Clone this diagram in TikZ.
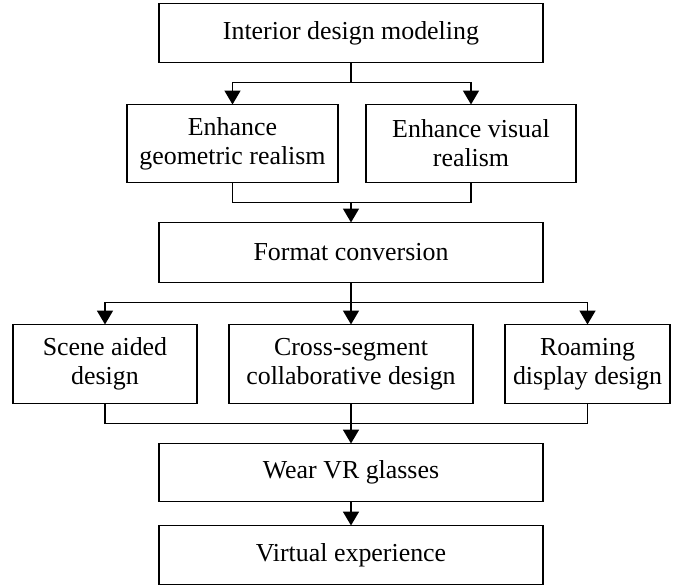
\documentclass[tikz,border=0pt]{standalone}
\usepackage{fontspec}
\setmainfont{Liberation Serif}
\usepackage{tikz}
\usetikzlibrary{arrows.meta,positioning,calc}
\tikzset{
  box/.style={draw,line width=0.9bp,fill=white,align=center,inner sep=2bp,%
    outer sep=0pt,font=\fontsize{13}{14.5}\selectfont},
  link/.style={line width=0.9bp,draw=black},
  flow/.style={link,-{Triangle[length=7bp,width=8bp]}},
}

\begin{document}
\begin{tikzpicture}[node distance=20bp]
\useasboundingbox (-175.5bp,16.5bp) rectangle (164.5bp,-277.5bp);
\node[box,minimum width=192bp,minimum height=29.5bp] (model) at (0,0) {Interior design modeling};
\node[box,minimum width=105.5bp,minimum height=39bp,below=21bp of model,xshift=-59.25bp] (geom) {Enhance\\geometric realism};
\node[box,minimum width=105bp,minimum height=39bp,right=14bp of geom] (visual) {Enhance visual\\realism};
\node[box,minimum width=192bp,minimum height=30bp,below=20bp of model |- geom.south] (fmt) {Format conversion};
\node[box,minimum width=122bp,minimum height=39.5bp,below=21bp of fmt] (cross) {Cross-segment\\collaborative design};
\node[box,minimum width=92bp,minimum height=39.5bp,left=16bp of cross] (scene) {Scene aided\\design};
\node[box,minimum width=82.5bp,minimum height=39.5bp,right=16bp of cross] (roam) {Roaming\\display design};
\node[box,minimum width=192bp,minimum height=29bp,below=20bp of cross] (wear) {Wear VR glasses};
\node[box,minimum width=192bp,minimum height=29.5bp,below=12bp of wear] (exp) {Virtual experience};
\draw[link] (model.south) -- ++(0,-10bp) coordinate (s1);
\draw[flow] (s1) -| (geom.north);
\draw[flow] (s1) -| (visual.north);
\draw[link] (geom.south) -- ++(0,-10bp) coordinate (j1) -| (visual.south);
\draw[flow] (j1 -| fmt.north) -- (fmt.north);
\draw[link] (fmt.south) -- ++(0,-10bp) coordinate (s2);
\draw[flow] (s2) -| (scene.north);
\draw[flow] (s2) -- (cross.north);
\draw[flow] (s2) -| (roam.north);
\draw[link] (scene.south) -- ++(0,-10bp) coordinate (j2) -| (roam.south);
\draw[flow] (cross.south) -- (wear.north);
\draw[flow] (wear.south) -- (exp.north);
\end{tikzpicture}
\end{document}
